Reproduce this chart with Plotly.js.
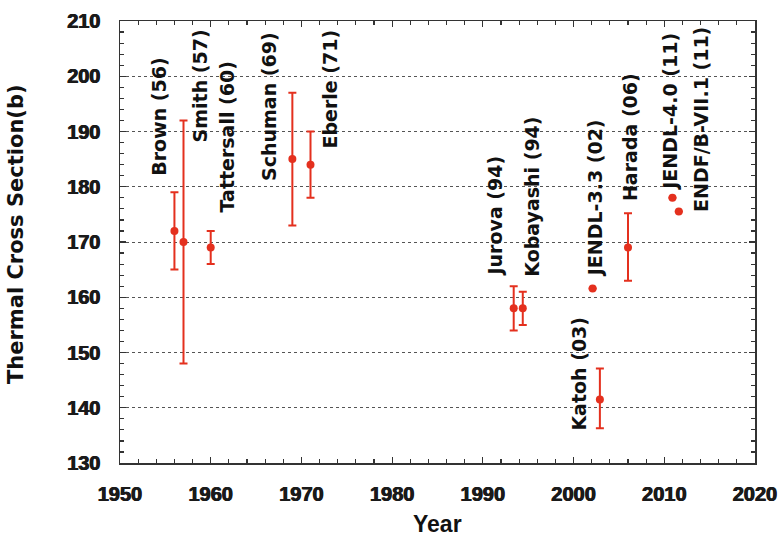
<!DOCTYPE html>
<html>
<head>
<meta charset="utf-8">
<script src="https://cdn.plot.ly/plotly-3.0.1.min.js"></script>
<style>html,body{margin:0;padding:0;background:#fff;}#chart{width:780px;height:538px;}</style>
</head>
<body>
<div id="chart"></div>
<script>
// Data
const labels = ["Brown (56)", "Smith (57)", "Tattersall (60)", "Schuman (69)", "Eberle (71)",
  "Jurova (94)", "Kobayashi (94)", "JENDL-3.3 (02)", "Katoh (03)", "Harada (06)",
  "JENDL-4.0 (11)", "ENDF/B-VII.1 (11)"];
const years = [1956, 1957, 1960, 1969, 1971, 1993.4, 1994.4, 2002.1, 2002.9, 2006, 2010.9, 2011.6];
const sigma = [172, 170, 169, 185, 184, 158, 158, 161.6, 141.5, 169, 178, 175.5];
const errPlus = [7, 22, 3, 12, 6, 4, 3, 0, 5.6, 6.2, 0, 0];
const errMinus = [7, 22, 3, 12, 6, 4, 3, 0, 5.2, 6, 0, 0];
const xTicks = [1950, 1960, 1970, 1980, 1990, 2000, 2010, 2020];
const yTicks = [130, 140, 150, 160, 170, 180, 190, 200, 210];

// Label placement (data coordinates of the start of each rotated label)
const labelX = [1954.3, 1958.8, 1961.9, 1966.5, 1973.15, 1991.35, 1995.4, 2002.4, 2000.5, 2006.2, 2010.6, 2014.1];
const labelY = [181.8, 187.9, 175.25, 180.9, 186.65, 163.5, 163.5, 163.5, 135.7, 177.2, 179.05, 175.25];

const red = "#e4301e";
const trace = {
  x: years, y: sigma, type: "scatter", mode: "markers",
  marker: {color: red, size: 8},
  error_y: {type: "data", symmetric: false, array: errPlus, arrayminus: errMinus,
            color: red, thickness: 2, width: 4},
  hoverinfo: "skip", showlegend: false
};

const annotations = labels.map((t, i) => ({
  text: "<b>" + t + "</b>", x: labelX[i], y: labelY[i], xref: "x", yref: "y",
  textangle: -90, xanchor: "center", yanchor: "bottom", showarrow: false,
  font: {family: "DejaVu Sans", size: 19, color: "#111"}, borderpad: 0
}));
annotations.push({
  text: "<b>Thermal Cross Section(b)</b>", xref: "paper", yref: "paper",
  x: -0.1638, y: 0.518, textangle: -90, xanchor: "center", yanchor: "middle",
  showarrow: false, font: {family: "DejaVu Sans", size: 21, color: "#111"}
});
annotations.push({
  text: "<b>Year</b>", xref: "paper", yref: "paper",
  x: 0.5, y: -0.138, xanchor: "center", yanchor: "middle",
  showarrow: false, font: {family: "Liberation Sans, Arial", size: 23, color: "#111"}
});

const tickFont = {family: "Liberation Sans, Arial", size: 20, color: "#1a1a1a", weight: "bold",
                  shadow: "0.5px 0 0 #1a1a1a, -0.5px 0 0 #1a1a1a"};

const axisCommon = {
  showline: true, linecolor: "#333", linewidth: 1.5, mirror: "ticks",
  ticks: "inside", ticklen: 6, tickwidth: 1.2, tickcolor: "#333",
  zeroline: false, tickfont: tickFont
};

const layout = {
  width: 780, height: 538,
  margin: {l: 120, r: 25, t: 21, b: 75},
  paper_bgcolor: "#fff", plot_bgcolor: "#fff",
  xaxis: Object.assign({}, axisCommon, {
    range: [1950, 2020], tickvals: xTicks, ticktext: xTicks.map(String),
    showgrid: false, ticklabelstandoff: 12,
    minor: {dtick: 2, tick0: 1950, ticks: "inside", ticklen: 4, tickcolor: "#333", showgrid: false}
  }),
  yaxis: Object.assign({}, axisCommon, {
    range: [130, 210], tickvals: yTicks, ticktext: yTicks.map(String),
    showgrid: true, gridcolor: "#555", gridwidth: 1, griddash: "dot", ticklabelstandoff: 14,
    minor: {dtick: 2, tick0: 130, ticks: "inside", ticklen: 4, tickcolor: "#333", showgrid: false}
  }),
  annotations: annotations
};

Plotly.newPlot("chart", [trace], layout, {displayModeBar: false, staticPlot: true});
</script>
</body>
</html>
